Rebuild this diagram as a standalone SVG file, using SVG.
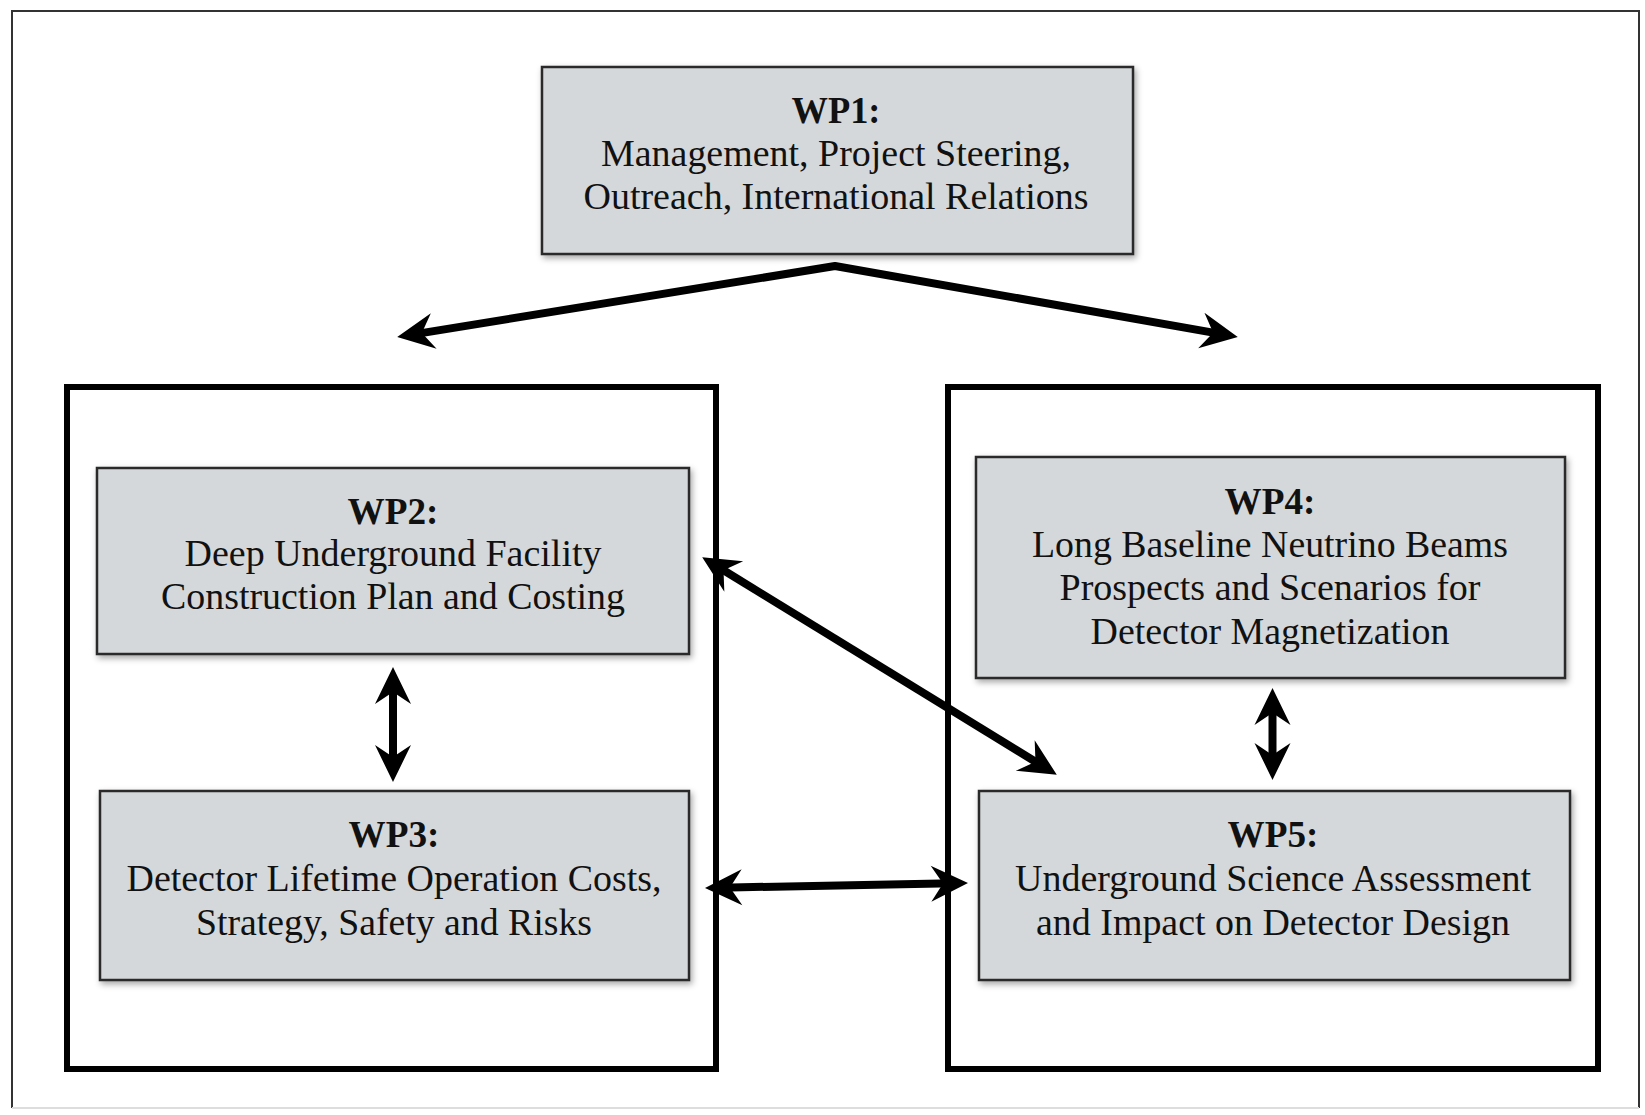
<svg xmlns="http://www.w3.org/2000/svg" width="1645" height="1115" viewBox="0 0 1645 1115">
<style>
.wp{fill:#d5d8da;stroke:#2a2a2a;stroke-width:2.5;filter:url(#sh)}
.ct{fill:#fff;stroke:#000;stroke-width:6}
.t{font-family:"Liberation Serif","Times New Roman",serif;font-size:37px;fill:#111;text-anchor:middle}
.b{font-weight:bold}
.c{fill:none;stroke:#000;stroke-width:8;stroke-linejoin:round;marker-start:url(#ah);marker-end:url(#ah)}
</style>
<defs>
<filter id="sh" x="-5%" y="-10%" width="110%" height="125%">
<feDropShadow dx="2" dy="3" stdDeviation="3" flood-color="#000" flood-opacity="0.35"/>
</filter>
<marker id="ah" viewBox="0 0 40 38" markerWidth="40" markerHeight="38" refX="24" refY="19" orient="auto-start-reverse" markerUnits="userSpaceOnUse">
<path d="M39,19 L2,1 L14,19 L2,37 Z" fill="#000"/>
</marker>
</defs>
<rect x="0" y="0" width="1645" height="1115" fill="#fff"/>
<path d="M12,1108 L12,11 L1639,11 L1639,1108" fill="none" stroke="#333" stroke-width="2"/>
<path d="M12,1108 L1639,1108" fill="none" stroke="#ddd" stroke-width="2"/>

<g id="group-left"><rect class="ct" x="67" y="387" width="649" height="682"/></g>
<g id="group-right"><rect class="ct" x="948" y="387" width="650" height="682"/></g>

<g id="wp1">
<rect class="wp" x="542" y="67" width="591" height="187"/>
<text class="t b" x="836" y="123" textLength="89" lengthAdjust="spacingAndGlyphs">WP1:</text>
<text class="t" x="836" y="166" textLength="470" lengthAdjust="spacingAndGlyphs">Management, Project Steering,</text>
<text class="t" x="836" y="209" textLength="505" lengthAdjust="spacingAndGlyphs">Outreach, International Relations</text>
</g>

<g id="wp2">
<rect class="wp" x="97" y="468" width="592" height="186"/>
<text class="t b" x="393" y="524" textLength="91" lengthAdjust="spacingAndGlyphs">WP2:</text>
<text class="t" x="393" y="566" textLength="417" lengthAdjust="spacingAndGlyphs">Deep Underground Facility</text>
<text class="t" x="393" y="609" textLength="464" lengthAdjust="spacingAndGlyphs">Construction Plan and Costing</text>
</g>

<g id="wp3">
<rect class="wp" x="100" y="791" width="589" height="189"/>
<text class="t b" x="394" y="847" textLength="91" lengthAdjust="spacingAndGlyphs">WP3:</text>
<text class="t" x="394" y="891" textLength="535" lengthAdjust="spacingAndGlyphs">Detector Lifetime Operation Costs,</text>
<text class="t" x="394" y="935" textLength="396" lengthAdjust="spacingAndGlyphs">Strategy, Safety and Risks</text>
</g>

<g id="wp4">
<rect class="wp" x="976" y="457" width="589" height="221"/>
<text class="t b" x="1270" y="514" textLength="91" lengthAdjust="spacingAndGlyphs">WP4:</text>
<text class="t" x="1270" y="557" textLength="476" lengthAdjust="spacingAndGlyphs">Long Baseline Neutrino Beams</text>
<text class="t" x="1270" y="600" textLength="421" lengthAdjust="spacingAndGlyphs">Prospects and Scenarios for</text>
<text class="t" x="1270" y="644" textLength="359" lengthAdjust="spacingAndGlyphs">Detector Magnetization</text>
</g>

<g id="wp5">
<rect class="wp" x="979" y="791" width="591" height="189"/>
<text class="t b" x="1273" y="847" textLength="91" lengthAdjust="spacingAndGlyphs">WP5:</text>
<text class="t" x="1273" y="891" textLength="516" lengthAdjust="spacingAndGlyphs">Underground Science Assessment</text>
<text class="t" x="1273" y="935" textLength="474" lengthAdjust="spacingAndGlyphs">and Impact on Detector Design</text>
</g>

<g id="connectors">
<polyline class="c" points="412,334.6 835,266 1223,334.4"/>
<line class="c" x1="393" y1="682" x2="393" y2="767"/>
<line class="c" x1="1272.5" y1="703" x2="1272.5" y2="765"/>
<line class="c" x1="715" y1="565" x2="1044" y2="767"/>
<line class="c" x1="720" y1="887.7" x2="953" y2="883.3"/>
</g>
</svg>
